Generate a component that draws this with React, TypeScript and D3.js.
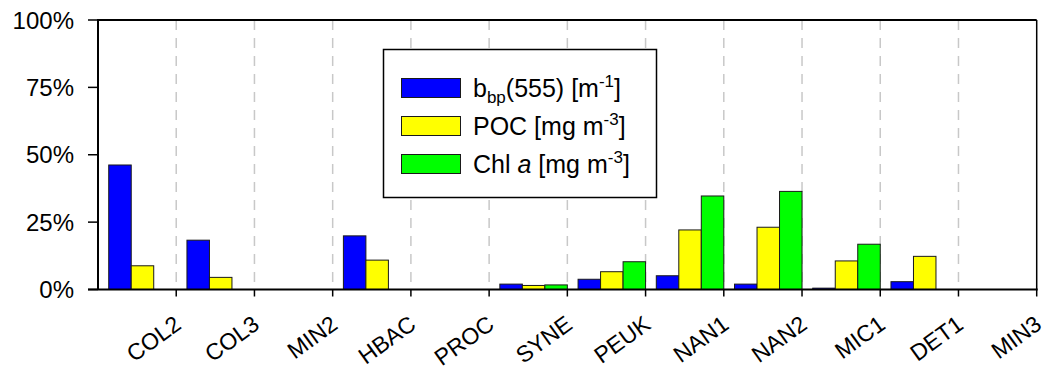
import React from "react";
import * as d3 from "d3";

const categories = ["COL2", "COL3", "MIN2", "HBAC", "PROC", "SYNE", "PEUK", "NAN1", "NAN2", "MIC1", "DET1", "MIN3"];
const bbpValues = [46.2, 18.3, 0, 19.9, 0, 2.0, 3.8, 5.1, 2.0, 0.5, 2.9, 0];
const pocValues = [8.8, 4.5, 0, 10.9, 0, 1.5, 6.6, 22.1, 23.1, 10.6, 12.3, 0];
const chlValues = [0, 0, 0, 0, 0, 1.7, 10.3, 34.7, 36.4, 16.8, 0, 0];
const yTicks = [0, 25, 50, 75, 100];
const seriesColors = ["#0000ff", "#ffff00", "#00ff00"];

const W = 1045;
const H = 368;
const left = 98;
const right = 1036.7;
const top = 20;
const bottom = 289.5;
const FONT = "'Liberation Sans', Arial, Helvetica, sans-serif";

export default function App() {
  const x = d3.scaleBand<string>().domain(categories).range([left, right]).paddingInner(0).paddingOuter(0);
  const y = d3.scaleLinear().domain([0, 100]).range([bottom, top]);
  const bw = x.bandwidth();
  const barW = 22.5;
  const series = [bbpValues, pocValues, chlValues];

  const legendX = 383.5;
  const legendY = 49.5;
  const rowGap = 38;
  const swY = 78.5;
  const textX = 473;

  return (
    <svg width={W} height={H} style={{ position: "absolute", left: 0, top: 0 }} fontFamily={FONT}>
      <rect x={0} y={0} width={W} height={H} fill="#fff" />
      {/* dashed gridlines */}
      {categories.slice(0, -1).map((c) => (
        <line
          key={"g" + c}
          x1={(x(c) as number) + bw}
          x2={(x(c) as number) + bw}
          y1={top}
          y2={bottom}
          stroke="#c8c8c8"
          strokeWidth={1.5}
          strokeDasharray="10,8"
        />
      ))}
      {/* bars */}
      {categories.map((c, ci) =>
        series.map((vals, si) => {
          const v = vals[ci];
          if (v <= 0) return null;
          const bx = (x(c) as number) + bw - 3 * barW + si * barW;
          return (
            <rect
              key={c + si}
              x={bx}
              y={y(v)}
              width={barW}
              height={bottom - y(v)}
              fill={seriesColors[si]}
              stroke="#1a1a1a"
              strokeWidth={1}
            />
          );
        })
      )}
      {/* frame */}
      <line x1={left} x2={right} y1={top} y2={top} stroke="#000" strokeWidth={2} />
      <line x1={right} x2={right} y1={top} y2={bottom} stroke="#000" strokeWidth={1.5} />
      <line x1={left} x2={left} y1={top - 1} y2={bottom} stroke="#000" strokeWidth={2} />
      <line x1={left - 10} x2={right + 1} y1={bottom} y2={bottom} stroke="#000" strokeWidth={2} />
      {/* y ticks */}
      {yTicks.map((t) => (
        <g key={"y" + t}>
          <line x1={left - 10} x2={left} y1={y(t)} y2={y(t)} stroke="#000" strokeWidth={1.5} />
          <text x={74} y={y(t) + 8.5} textAnchor="end" fontSize={24} fill="#000">
            {t + "%"}
          </text>
        </g>
      ))}
      {/* x ticks and labels */}
      {categories.map((c) => {
        const tx = (x(c) as number) + bw;
        return (
          <g key={"x" + c}>
            <line x1={tx} x2={tx} y1={bottom} y2={bottom + 7} stroke="#000" strokeWidth={1.5} />
            <text
              transform={`translate(${tx + 6.5},${bottom + 38}) rotate(-36)`}
              textAnchor="end"
              fontSize={23}
              fill="#000"
            >
              {c}
            </text>
          </g>
        );
      })}
      {/* legend */}
      <rect x={legendX} y={legendY} width={273} height={148} fill="#fff" stroke="#000" strokeWidth={1.5} />
      {seriesColors.map((col, i) => (
        <rect
          key={"l" + i}
          x={401.5}
          y={swY + i * rowGap}
          width={59}
          height={19}
          fill={col}
          stroke="#1a1a1a"
          strokeWidth={1}
        />
      ))}
      <text x={textX} y={swY + 9.5 + 9.3} fontSize={25} fill="#000">
        <tspan>b</tspan>
        <tspan fontSize={17} dy={6}>bp</tspan>
        <tspan dy={-6}>(555) [m</tspan>
        <tspan fontSize={17} dy={-10}>-1</tspan>
        <tspan dy={10}>]</tspan>
      </text>
      <text x={textX} y={swY + rowGap + 9.5 + 9.3} fontSize={25} fill="#000">
        <tspan>POC [mg m</tspan>
        <tspan fontSize={17} dy={-10}>-3</tspan>
        <tspan dy={10}>]</tspan>
      </text>
      <text x={textX} y={swY + 2 * rowGap + 9.5 + 9.3} fontSize={25} fill="#000">
        <tspan>Chl </tspan>
        <tspan fontStyle="italic">a</tspan>
        <tspan> [mg m</tspan>
        <tspan fontSize={17} dy={-10}>-3</tspan>
        <tspan dy={10}>]</tspan>
      </text>
    </svg>
  );
}
